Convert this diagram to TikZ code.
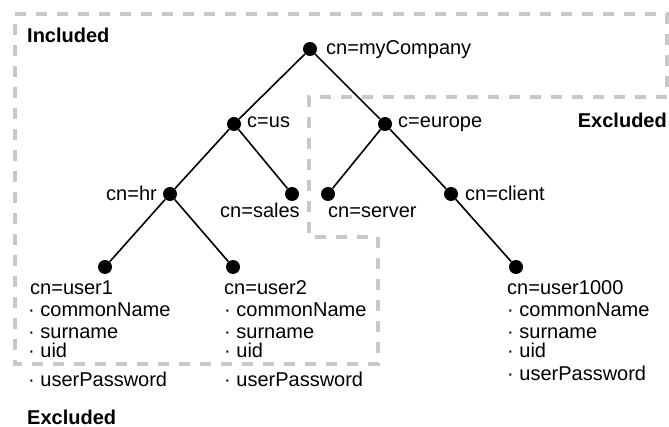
\documentclass[tikz,border=0pt]{standalone}
\usepackage{fontspec}
\setmainfont{Liberation Sans}
\definecolor{dashgray}{RGB}{200,200,200}
\begin{document}
\begin{tikzpicture}[x=1pt,y=-1pt,
  dot/.style={circle,fill=black,inner sep=0pt,minimum size=14pt},
  lbl/.style={inner sep=0pt,font=\fontsize{20}{21}\selectfont},
  ttl/.style={inner sep=0pt,font=\fontsize{20}{21}\selectfont\bfseries},
  edge/.style={line width=1.6pt,black},
  region/.style={line width=4pt,dashgray,dash pattern=on 11pt off 10pt}]
\useasboundingbox (0,0) rectangle (669,427);
% dashed region
\draw[region] (15,14) -- (667,14) -- (667,97) -- (309,97) -- (309,237) -- (378,237) -- (378,364) -- (15,364) -- cycle;
% tree nodes
\node[dot] (mc) at (310,49) {};
\node[dot] (us) at (234,124) {};
\node[dot] (eu) at (385,124) {};
\node[dot] (hr) at (170,194) {};
\node[dot] (sales) at (292,194) {};
\node[dot] (server) at (328,194) {};
\node[dot] (client) at (451,194) {};
\node[dot] (u1) at (105,267) {};
\node[dot] (u2) at (233,267) {};
\node[dot] (u1000) at (516,267) {};
% edges
\draw[edge] (mc) -- (us);
\draw[edge] (mc) -- (eu);
\draw[edge] (us) -- (hr);
\draw[edge] (us) -- (sales);
\draw[edge] (eu) -- (server);
\draw[edge] (eu) -- (client);
\draw[edge] (hr) -- (u1);
\draw[edge] (hr) -- (u2);
\draw[edge] (client) -- (u1000);
% labels
\node[lbl,anchor=base west] (lmc) at (326,55) {cn=myCompany};
\node[lbl,anchor=base west] (lus) at (247,128) {c=us};
\node[lbl,anchor=base west] (leu) at (398,128) {c=europe};
\node[lbl,anchor=base east] (lhr) at (157,201) {cn=hr};
\node[lbl,anchor=base west] (lsales) at (220,218) {cn=sales};
\node[lbl,anchor=base west] (lserver) at (328,218) {cn=server};
\node[lbl,anchor=base west] (lclient) at (465,201) {cn=client};
% titles
\node[ttl,anchor=base west] (inc) at (27,43) {Included};
\node[ttl,anchor=base east] (exr) at (667,128) {Excluded};
\node[ttl,anchor=base west] (exb) at (27,424) {Excluded};
% user1
\node[lbl,anchor=base west] (a1) at (30,295) {cn=user1};
\node[lbl,anchor=base west] (a2) at (28,317) {· commonName};
\node[lbl,anchor=base west] (a3) at (28,338) {· surname};
\node[lbl,anchor=base west] (a4) at (28,358) {· uid};
\node[lbl,anchor=base west] (a5) at (28,386) {· userPassword};
% user2
\node[lbl,anchor=base west] (b1) at (224,295) {cn=user2};
\node[lbl,anchor=base west] (b2) at (224,317) {· commonName};
\node[lbl,anchor=base west] (b3) at (224,338) {· surname};
\node[lbl,anchor=base west] (b4) at (224,358) {· uid};
\node[lbl,anchor=base west] (b5) at (224,386) {· userPassword};
% user1000
\node[lbl,anchor=base west] (c1) at (507,295) {cn=user1000};
\node[lbl,anchor=base west] (c2) at (507,317) {· commonName};
\node[lbl,anchor=base west] (c3) at (507,338) {· surname};
\node[lbl,anchor=base west] (c4) at (507,358) {· uid};
\node[lbl,anchor=base west] (c5) at (507,380) {· userPassword};
\end{tikzpicture}
\end{document}
